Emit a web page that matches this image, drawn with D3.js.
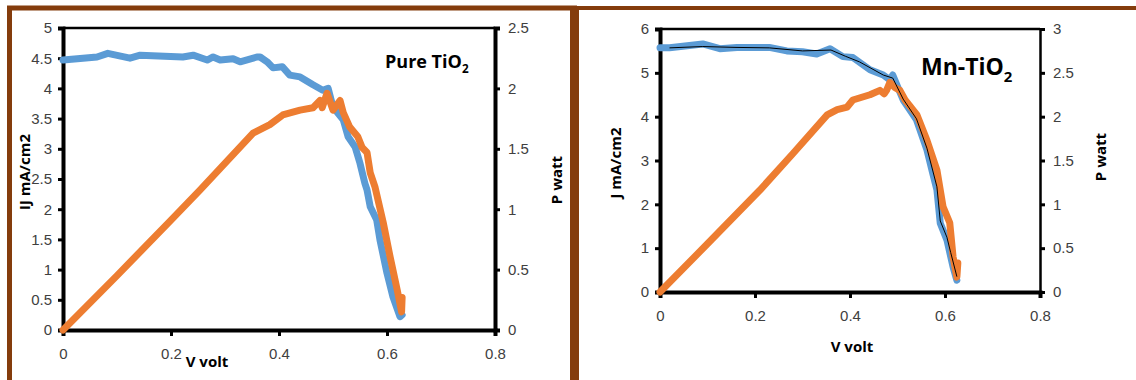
<!DOCTYPE html>
<html lang="en">
<head>
<meta charset="utf-8" />
<script src="https://cdnjs.cloudflare.com/ajax/libs/d3/7.8.5/d3.min.js"></script>
<style>
    body { margin: 0; background: #fff; }
    svg { display: block; font-family: 'Open Sans', sans-serif; }
    .tick text { fill: #404040; font-size: 15px; }
    .axis-title { font-weight: bold; font-size: 15px; fill: #000; }
</style>
</head>
<body>
<div id="chart"></div>
<script>
// ---- data ----
// Pure TiO2
var pureV = [0, 0.037, 0.063, 0.083, 0.124, 0.143, 0.222, 0.241, 0.267, 0.278, 0.291, 0.315, 0.328, 0.359, 0.365, 0.378, 0.389, 0.406, 0.42, 0.439, 0.463, 0.481, 0.491, 0.5, 0.519, 0.528, 0.541, 0.55, 0.559, 0.563, 0.569, 0.581, 0.587, 0.6, 0.611, 0.624, 0.628];
var pureJ = [4.47, 4.5, 4.52, 4.58, 4.5, 4.55, 4.52, 4.55, 4.47, 4.52, 4.47, 4.49, 4.44, 4.52, 4.52, 4.44, 4.34, 4.36, 4.22, 4.19, 4.06, 3.97, 4.0, 3.69, 3.48, 3.2, 3.03, 2.76, 2.43, 2.32, 2.04, 1.82, 1.49, 0.94, 0.55, 0.22, 0.25];
var pureVp = [0, 0.1, 0.2, 0.254, 0.352, 0.383, 0.407, 0.439, 0.463, 0.476, 0.48, 0.489, 0.5, 0.513, 0.519, 0.531, 0.546, 0.554, 0.563, 0.569, 0.578, 0.593, 0.606, 0.619, 0.627, 0.628];
var pureP = [0, 0.45, 0.91, 1.16, 1.63, 1.70, 1.78, 1.82, 1.84, 1.90, 1.84, 1.96, 1.82, 1.90, 1.80, 1.68, 1.60, 1.51, 1.47, 1.30, 1.18, 0.89, 0.60, 0.33, 0.15, 0.27];

// Mn-TiO2
var mnV = [0, 0.02, 0.09, 0.126, 0.162, 0.23, 0.267, 0.3, 0.33, 0.358, 0.385, 0.406, 0.442, 0.47, 0.484, 0.49, 0.512, 0.54, 0.562, 0.575, 0.583, 0.59, 0.604, 0.617, 0.625];
var mnJ = [5.57, 5.57, 5.66, 5.55, 5.58, 5.58, 5.5, 5.48, 5.43, 5.55, 5.37, 5.35, 5.07, 4.95, 4.84, 4.95, 4.38, 3.93, 3.24, 2.67, 2.33, 1.57, 1.19, 0.57, 0.27];
var mnFitV = [0.02, 0.09, 0.16, 0.23, 0.3, 0.36, 0.39, 0.42, 0.47, 0.49, 0.512, 0.54, 0.562, 0.583, 0.59, 0.604, 0.612, 0.625];
var mnFitJ = [5.57, 5.6, 5.58, 5.57, 5.5, 5.52, 5.38, 5.25, 4.95, 4.88, 4.4, 3.95, 3.28, 2.4, 1.62, 1.25, 0.9, 0.35];
var mnVp = [0, 0.1, 0.21, 0.28, 0.352, 0.373, 0.394, 0.406, 0.442, 0.463, 0.472, 0.477, 0.484, 0.495, 0.505, 0.516, 0.541, 0.562, 0.583, 0.596, 0.61, 0.617, 0.625, 0.627];
var mnP = [0, 0.55, 1.16, 1.58, 2.02, 2.08, 2.11, 2.19, 2.25, 2.30, 2.26, 2.30, 2.39, 2.33, 2.30, 2.19, 2.02, 1.73, 1.39, 0.97, 0.79, 0.40, 0.17, 0.33];

var xTicks = [0, 0.2, 0.4, 0.6, 0.8];
var pureJTicks = [0, 0.5, 1, 1.5, 2, 2.5, 3, 3.5, 4, 4.5, 5];
var purePTicks = [0, 0.5, 1, 1.5, 2, 2.5];
var mnJTicks = [0, 1, 2, 3, 4, 5, 6];
var mnPTicks = [0, 0.5, 1, 1.5, 2, 2.5, 3];

var W = 1136, H = 380;
var brown = '#843c0c';
var blue = '#5b9bd5';
var orange = '#ed7d31';

var svg = d3.select('#chart').append('svg')
    .attr('width', W).attr('height', H);

// frames
svg.append('rect').attr('x', 9.5).attr('y', 8).attr('width', 565).attr('height', 400)
    .attr('fill', 'none').attr('stroke', brown).attr('stroke-width', 5);
svg.append('line').attr('x1', 574.5).attr('x2', 574.5).attr('y1', 6).attr('y2', H)
    .attr('stroke', brown).attr('stroke-width', 9);
svg.append('line').attr('x1', 570).attr('x2', W).attr('y1', 8).attr('y2', 8)
    .attr('stroke', brown).attr('stroke-width', 4);

function fmt(d) { return String(d); }

function drawChart(c) {
    var x = d3.scaleLinear().domain([0, 0.8]).range([c.left, c.right]);
    var yJ = d3.scaleLinear().domain(c.jDomain).range([c.bottom, c.top]);
    var yP = d3.scaleLinear().domain(c.pDomain).range([c.bottom, c.top]);
    var g = svg.append('g');

    // plot frame top line
    g.append('line').attr('x1', c.left).attr('x2', c.right).attr('y1', c.top).attr('y2', c.top)
        .attr('stroke', '#000').attr('stroke-width', 2.5);

    var ax = g.append('g').attr('transform', 'translate(0,' + c.bottom + ')')
        .call(d3.axisBottom(x).tickValues(xTicks).tickFormat(fmt).tickSize(6).tickPadding(c.xPad));
    var al = g.append('g').attr('transform', 'translate(' + c.left + ',0)')
        .call(d3.axisLeft(yJ).tickValues(c.jTicks).tickFormat(fmt).tickSize(5).tickPadding(6));
    var ar = g.append('g').attr('transform', 'translate(' + c.right + ',0)')
        .call(d3.axisRight(yP).tickValues(c.pTicks).tickFormat(fmt).tickSize(5).tickPadding(8));
    [ax, al, ar].forEach(function (a) {
        a.select('.domain').attr('stroke', '#000').attr('stroke-width', 4);
        a.selectAll('.tick line').attr('stroke', '#000').attr('stroke-width', 3);
        a.selectAll('.tick text').style('font-size', '15px').style('fill', '#404040');
    });
    ar.select('.domain').attr('stroke-width', c.rightW);

    var lineJ = d3.line().x(function (d) { return x(d[0]); }).y(function (d) { return yJ(d[1]); });
    var lineP = d3.line().x(function (d) { return x(d[0]); }).y(function (d) { return yP(d[1]); });

    g.append('path').datum(d3.zip(c.v, c.j)).attr('d', lineJ)
        .attr('fill', 'none').attr('stroke', blue).attr('stroke-width', 7)
        .attr('stroke-linejoin', 'round').attr('stroke-linecap', 'round');
    g.append('path').datum(d3.zip(c.vp, c.p)).attr('d', lineP)
        .attr('fill', 'none').attr('stroke', orange).attr('stroke-width', 7)
        .attr('stroke-linejoin', 'round').attr('stroke-linecap', 'round');
    if (c.fitV) {
        g.append('path').datum(d3.zip(c.fitV, c.fitJ)).attr('d', lineJ)
            .attr('fill', 'none').attr('stroke', '#000').attr('stroke-width', 1);
    }

    // titles
    g.append('text').attr('class', 'axis-title')
        .attr('x', c.xTitle[0]).attr('y', c.xTitle[1]).attr('text-anchor', 'middle').text('V volt');
    g.append('text').attr('class', 'axis-title')
        .attr('transform', 'translate(' + c.jTitle[0] + ',' + c.jTitle[1] + ') rotate(-90)')
        .attr('text-anchor', 'middle').text(c.jLabel);
    g.append('text').attr('class', 'axis-title')
        .attr('transform', 'translate(' + c.pTitle[0] + ',' + c.pTitle[1] + ') rotate(-90)')
        .attr('text-anchor', 'middle').text('P watt');

    var t = g.append('text').attr('x', c.name[0]).attr('y', c.name[1])
        .style('font-weight', 'bold').style('font-size', c.nameSize + 'px');
    t.append('tspan').text(c.nameText);
    t.append('tspan').text('2').attr('dy', c.nameSize * 0.3).style('font-size', (c.nameSize * 0.65) + 'px');
}

drawChart({
    left: 63, right: 495, top: 28, bottom: 330,
    jDomain: [0, 5], pDomain: [0, 2.5], jTicks: pureJTicks, pTicks: purePTicks,
    v: pureV, j: pureJ, vp: pureVp, p: pureP,
    xPad: 12, rightW: 4,
    xTitle: [207, 367], jTitle: [30, 172], pTitle: [562, 180], jLabel: 'IJ mA/cm2',
    name: [385, 68], nameSize: 18, nameText: 'Pure TiO'
});

drawChart({
    left: 660, right: 1040, top: 29, bottom: 292,
    jDomain: [0, 6], pDomain: [0, 3], jTicks: mnJTicks, pTicks: mnPTicks,
    v: mnV, j: mnJ, vp: mnVp, p: mnP, fitV: mnFitV, fitJ: mnFitJ,
    xPad: 12, rightW: 2.5,
    xTitle: [852, 352], jTitle: [621, 163], pTitle: [1106, 157], jLabel: 'J mA/cm2',
    name: [921, 75], nameSize: 23, nameText: 'Mn-TiO'
});
</script>
</body>
</html>
